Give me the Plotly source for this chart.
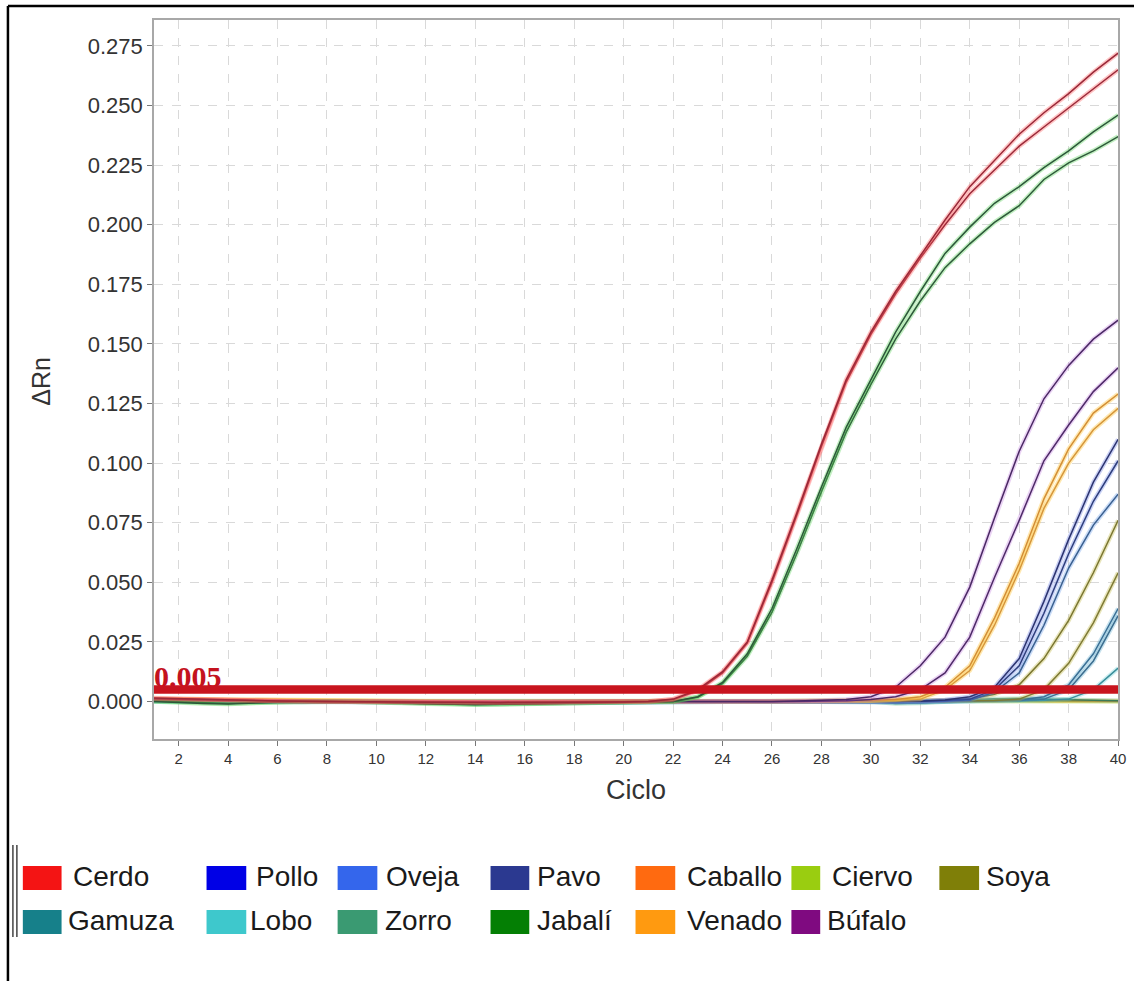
import plotly.graph_objects as go

# ---------------- data ----------------
cycles = list(range(1, 41))

cerdo_a = [0.0015, 0.0012, 0.0008, 0.0005, 0.0003, 0.0002, 0.0001, 0.0000, 0.0000, -0.0002,
           -0.0003, -0.0004, -0.0004, -0.0005, -0.0005, -0.0004, -0.0004, -0.0003, -0.0002, -0.0002,
           0.0000, 0.0010, 0.0050, 0.0125, 0.0250, 0.0510, 0.0790, 0.1080, 0.1350, 0.1550,
           0.1720, 0.1870, 0.2020, 0.2160, 0.2270, 0.2380, 0.2470, 0.2550, 0.2640, 0.2720]
cerdo_b = [0.0012, 0.0010, 0.0007, 0.0004, 0.0002, 0.0001, 0.0000, -0.0001, -0.0001, -0.0002,
           -0.0003, -0.0003, -0.0004, -0.0004, -0.0004, -0.0003, -0.0003, -0.0002, -0.0002, -0.0001,
           0.0001, 0.0008, 0.0045, 0.0120, 0.0245, 0.0500, 0.0780, 0.1070, 0.1340, 0.1540,
           0.1710, 0.1860, 0.2000, 0.2130, 0.2230, 0.2330, 0.2410, 0.2490, 0.2570, 0.2650]
jabali_a = [0.0000, -0.0005, -0.0008, -0.0010, -0.0006, -0.0002, 0.0000, 0.0001, 0.0000, -0.0003,
            -0.0006, -0.0009, -0.0012, -0.0014, -0.0012, -0.0010, -0.0009, -0.0008, -0.0007, -0.0005,
            -0.0003, 0.0000, 0.0020, 0.0080, 0.0200, 0.0390, 0.0640, 0.0900, 0.1150, 0.1350,
            0.1550, 0.1720, 0.1880, 0.1990, 0.2090, 0.2160, 0.2240, 0.2310, 0.2390, 0.2460]
jabali_b = [0.0002, -0.0002, -0.0006, -0.0008, -0.0005, -0.0002, 0.0000, 0.0000, -0.0001, -0.0004,
            -0.0007, -0.0010, -0.0011, -0.0012, -0.0011, -0.0010, -0.0009, -0.0007, -0.0006, -0.0004,
            -0.0002, 0.0000, 0.0018, 0.0075, 0.0190, 0.0375, 0.0620, 0.0880, 0.1130, 0.1330,
            0.1520, 0.1680, 0.1820, 0.1920, 0.2010, 0.2080, 0.2190, 0.2260, 0.2310, 0.2370]
bufalo_a = [0.0008, 0.0006, 0.0004, 0.0002, 0.0001, 0.0000, -0.0001, -0.0001, 0.0000, 0.0000,
            -0.0002, -0.0003, -0.0004, -0.0004, -0.0003, -0.0002, -0.0002, -0.0001, 0.0000, 0.0000,
            0.0001, 0.0001, 0.0000, -0.0001, -0.0001, 0.0000, 0.0002, 0.0004, 0.0008, 0.0020,
            0.0060, 0.0150, 0.0270, 0.0480, 0.0770, 0.1050, 0.1270, 0.1410, 0.1520, 0.1600]
bufalo_b = [0.0006, 0.0005, 0.0003, 0.0002, 0.0000, -0.0001, -0.0002, -0.0002, -0.0001, 0.0000,
            -0.0001, -0.0002, -0.0003, -0.0003, -0.0002, -0.0002, -0.0001, -0.0001, 0.0000, 0.0000,
            0.0000, 0.0001, 0.0000, -0.0001, -0.0002, -0.0001, 0.0000, 0.0001, 0.0003, 0.0008,
            0.0020, 0.0050, 0.0120, 0.0270, 0.0520, 0.0760, 0.1010, 0.1160, 0.1300, 0.1400]
venado_a = [0.0010, 0.0009, 0.0007, 0.0006, 0.0005, 0.0005, 0.0004, 0.0003, 0.0002, 0.0001,
            0.0000, -0.0001, -0.0002, -0.0002, -0.0001, -0.0001, 0.0000, 0.0000, 0.0001, 0.0001,
            0.0000, 0.0000, -0.0001, -0.0001, 0.0000, 0.0001, 0.0001, 0.0002, 0.0003, 0.0004,
            0.0008, 0.0020, 0.0060, 0.0150, 0.0350, 0.0580, 0.0850, 0.1060, 0.1210, 0.1290]
venado_b = [0.0009, 0.0008, 0.0006, 0.0005, 0.0004, 0.0004, 0.0003, 0.0002, 0.0001, 0.0000,
            -0.0001, -0.0002, -0.0002, -0.0003, -0.0002, -0.0001, -0.0001, 0.0000, 0.0000, 0.0001,
            0.0000, -0.0001, -0.0001, -0.0002, -0.0001, 0.0000, 0.0001, 0.0001, 0.0002, 0.0003,
            0.0005, 0.0010, 0.0050, 0.0130, 0.0320, 0.0550, 0.0810, 0.1000, 0.1140, 0.1230]
pavo = [0.0004, 0.0003, 0.0002, 0.0001, 0.0000, -0.0001, -0.0001, -0.0002, -0.0002, -0.0001,
        -0.0002, -0.0003, -0.0004, -0.0005, -0.0005, -0.0004, -0.0003, -0.0003, -0.0002, -0.0002,
        -0.0001, -0.0001, 0.0000, 0.0000, 0.0001, 0.0001, 0.0000, -0.0001, -0.0002, -0.0002,
        -0.0001, 0.0001, 0.0006, 0.0020, 0.0060, 0.0180, 0.0420, 0.0680, 0.0920, 0.1100]
pollo = [0.0003, 0.0002, 0.0001, 0.0000, -0.0001, -0.0002, -0.0002, -0.0002, -0.0001, 0.0000,
         -0.0001, -0.0002, -0.0003, -0.0004, -0.0004, -0.0003, -0.0003, -0.0002, -0.0002, -0.0001,
         -0.0001, 0.0000, 0.0000, 0.0001, 0.0001, 0.0000, 0.0000, -0.0001, -0.0002, -0.0001,
         0.0000, 0.0001, 0.0004, 0.0010, 0.0050, 0.0150, 0.0370, 0.0620, 0.0840, 0.1010]
oveja = [0.0002, 0.0001, 0.0000, -0.0001, -0.0001, -0.0002, -0.0002, -0.0001, 0.0000, 0.0000,
         -0.0001, -0.0002, -0.0002, -0.0003, -0.0003, -0.0002, -0.0002, -0.0001, -0.0001, 0.0000,
         0.0000, 0.0000, 0.0001, 0.0001, 0.0000, -0.0001, -0.0001, -0.0002, -0.0002, -0.0001,
         0.0000, 0.0000, 0.0002, 0.0005, 0.0040, 0.0120, 0.0320, 0.0560, 0.0740, 0.0870]
soya_a = [0.0006, 0.0005, 0.0004, 0.0003, 0.0002, 0.0002, 0.0001, 0.0000, 0.0000, -0.0001,
          -0.0001, -0.0002, -0.0002, -0.0002, -0.0001, -0.0001, 0.0000, 0.0000, 0.0001, 0.0001,
          0.0000, 0.0000, -0.0001, -0.0001, 0.0000, 0.0000, 0.0001, 0.0001, 0.0001, 0.0000,
          0.0000, 0.0001, 0.0003, 0.0010, 0.0030, 0.0070, 0.0180, 0.0340, 0.0540, 0.0760]
soya_b = [0.0005, 0.0004, 0.0003, 0.0002, 0.0001, 0.0001, 0.0000, 0.0000, -0.0001, -0.0001,
          -0.0002, -0.0002, -0.0003, -0.0003, -0.0002, -0.0002, -0.0001, -0.0001, 0.0000, 0.0000,
          0.0000, 0.0001, 0.0001, 0.0000, 0.0000, -0.0001, -0.0001, 0.0000, 0.0000, 0.0001,
          0.0001, 0.0002, 0.0002, 0.0003, 0.0004, 0.0010, 0.0050, 0.0160, 0.0330, 0.0540]
gamuza_a = [0.0003, 0.0002, 0.0001, 0.0000, -0.0001, -0.0001, -0.0002, -0.0002, -0.0001, -0.0001,
            -0.0003, -0.0005, -0.0007, -0.0008, -0.0007, -0.0006, -0.0005, -0.0004, -0.0003, -0.0002,
            -0.0002, -0.0001, -0.0001, 0.0000, 0.0000, 0.0000, 0.0001, 0.0001, 0.0000, -0.0002,
            -0.0004, -0.0002, 0.0000, 0.0002, 0.0004, 0.0006, 0.0020, 0.0070, 0.0200, 0.0390]
gamuza_b = [0.0002, 0.0001, 0.0000, -0.0001, -0.0002, -0.0002, -0.0002, -0.0001, -0.0001, 0.0000,
            -0.0002, -0.0004, -0.0006, -0.0007, -0.0006, -0.0005, -0.0004, -0.0003, -0.0003, -0.0002,
            -0.0001, -0.0001, 0.0000, 0.0000, 0.0001, 0.0001, 0.0000, 0.0000, -0.0001, -0.0003,
            -0.0005, -0.0003, -0.0001, 0.0001, 0.0003, 0.0004, 0.0010, 0.0050, 0.0170, 0.0360]
lobo = [0.0001, 0.0000, -0.0001, -0.0002, -0.0002, -0.0001, 0.0000, 0.0000, 0.0001, 0.0000,
        -0.0001, -0.0002, -0.0003, -0.0003, -0.0002, -0.0002, -0.0001, -0.0001, 0.0000, 0.0000,
        0.0001, 0.0001, 0.0000, 0.0000, -0.0001, -0.0001, 0.0000, 0.0000, 0.0001, 0.0000,
        -0.0002, -0.0001, 0.0000, 0.0001, 0.0002, 0.0003, 0.0005, 0.0010, 0.0050, 0.0140]
zorro = [0.0005, 0.0003, 0.0002, 0.0000, -0.0002, -0.0003, -0.0003, -0.0002, -0.0001, 0.0000,
         0.0000, -0.0004, -0.0008, -0.0012, -0.0010, -0.0008, -0.0007, -0.0006, -0.0005, -0.0004,
         -0.0003, -0.0002, -0.0002, -0.0001, 0.0000, 0.0000, 0.0001, 0.0002, 0.0002, 0.0000,
         -0.0008, -0.0006, 0.0000, 0.0006, 0.0010, 0.0012, 0.0010, 0.0008, 0.0005, 0.0003]
caballo = [0.0010, 0.0008, 0.0006, 0.0006, 0.0007, 0.0008, 0.0006, 0.0004, 0.0002, 0.0000,
           -0.0002, -0.0003, -0.0004, -0.0004, -0.0003, -0.0002, -0.0001, 0.0000, 0.0001, 0.0002,
           0.0002, 0.0001, 0.0000, -0.0001, -0.0002, -0.0002, -0.0001, 0.0000, 0.0001, 0.0002,
           0.0003, 0.0004, 0.0005, 0.0006, 0.0006, 0.0005, 0.0004, 0.0003, 0.0002, 0.0002]
ciervo = [0.0002, 0.0001, 0.0000, -0.0001, 0.0000, 0.0001, 0.0002, 0.0002, 0.0001, 0.0000,
          -0.0001, -0.0002, -0.0002, -0.0001, 0.0000, 0.0001, 0.0001, 0.0000, -0.0001, -0.0001,
          0.0000, 0.0001, 0.0002, 0.0002, 0.0001, 0.0000, -0.0001, -0.0001, 0.0000, 0.0001,
          0.0002, 0.0003, 0.0003, 0.0002, 0.0001, 0.0000, -0.0001, -0.0001, 0.0000, 0.0000]

threshold = 0.005
threshold_label = "0.005"

x_ticks = list(range(2, 41, 2))
y_ticks = [0.000, 0.025, 0.050, 0.075, 0.100, 0.125, 0.150, 0.175, 0.200, 0.225, 0.250, 0.275]

# legend entries: (name, swatch colour), two rows
legend_row1 = [("Cerdo", "#F41414"), ("Pollo", "#0000E6"), ("Oveja", "#3466EC"), ("Pavo", "#2B3990"),
               ("Caballo", "#FF6A10"), ("Ciervo", "#9ACD10"), ("Soya", "#7F7F08")]
legend_row2 = [("Gamuza", "#16808A"), ("Lobo", "#3EC8CC"), ("Zorro", "#3A9A72"), ("Jabalí", "#047F04"),
               ("Venado", "#FF9A10"), ("Búfalo", "#7F0A80")]

# (values, core colour, halo colour) drawn bottom-to-top
curves = [
    (ciervo, "#A6C83A", "rgba(170,220,60,0.35)"),
    (caballo, "#E0762E", "rgba(255,150,60,0.30)"),
    (zorro, "#3A7A58", "rgba(70,180,120,0.30)"),
    (lobo, "#3A8E9A", "rgba(80,200,210,0.30)"),
    (gamuza_b, "#3C6E90", "rgba(70,160,200,0.30)"),
    (gamuza_a, "#3A7096", "rgba(70,160,200,0.30)"),
    (soya_b, "#7E7A34", "rgba(190,180,60,0.35)"),
    (soya_a, "#7A7630", "rgba(190,180,60,0.35)"),
    (oveja, "#3A6090", "rgba(80,140,230,0.30)"),
    (pollo, "#2E3E7C", "rgba(80,110,230,0.30)"),
    (pavo, "#2C3470", "rgba(80,100,220,0.30)"),
    (venado_b, "#D6963A", "rgba(255,205,80,0.45)"),
    (venado_a, "#D48E34", "rgba(255,205,80,0.45)"),
    (bufalo_b, "#4E2A68", "rgba(170,80,210,0.25)"),
    (bufalo_a, "#4A2864", "rgba(170,80,210,0.25)"),
    (jabali_b, "#2E5A3A", "rgba(80,210,80,0.35)"),
    (jabali_a, "#2C583A", "rgba(80,210,80,0.35)"),
    (cerdo_b, "#9C2A3A", "rgba(255,90,90,0.35)"),
    (cerdo_a, "#9A2838", "rgba(255,90,90,0.35)"),
]

# ---------------- figure ----------------
W, H = 1142, 981


def px(x):
    return x / W


def py(y):
    return 1 - y / H


fig = go.Figure()

for vals, core, halo in curves:
    fig.add_trace(go.Scatter(x=cycles, y=vals, mode="lines",
                             line=dict(color=halo, width=4.5), hoverinfo="skip"))
    fig.add_trace(go.Scatter(x=cycles, y=vals, mode="lines",
                             line=dict(color=core, width=1.5)))

# threshold label, then the threshold bar drawn over its lower edge
fig.add_trace(go.Scatter(x=[1.0], y=[threshold * 0.62], mode="text",
                         text=[f"<b>{threshold_label}</b>"],
                         textposition="top right", cliponaxis=False,
                         textfont=dict(family="Liberation Serif", size=30, color="#C4121E")))
fig.add_trace(go.Scatter(x=[1, 40], y=[threshold, threshold], mode="lines",
                         line=dict(color="#C8141E", width=8.5), cliponaxis=False))

axis_font = dict(family="Liberation Sans, Arial", color="#333333")

fig.update_layout(
    width=W, height=H,
    margin=dict(l=0, r=0, t=0, b=0),
    paper_bgcolor="white", plot_bgcolor="white",
    showlegend=False,
    xaxis=dict(
        domain=[px(155), px(1126)], range=[1, 40],
        tickvals=x_ticks, ticktext=[str(v) for v in x_ticks],
        tickfont=dict(size=15, **axis_font),
        ticks="outside", ticklen=5, tickcolor="#777777",
        showline=True, linecolor="#A8A8A8", linewidth=1.5, mirror=True,
        showgrid=True, gridcolor="#D9D9D9", griddash="dash", gridwidth=1,
        zeroline=False,
        title=dict(text="Ciclo", font=dict(size=27, **axis_font), standoff=14),
    ),
    yaxis=dict(
        domain=[py(739), py(20)], range=[-0.01573, 0.2859],
        tickvals=y_ticks, ticktext=[f"{v:.3f}" for v in y_ticks],
        tickfont=dict(size=22, **axis_font),
        ticks="outside", ticklen=5, tickcolor="#777777",
        showline=True, linecolor="#A8A8A8", linewidth=1.5, mirror=True,
        showgrid=True, gridcolor="#D9D9D9", griddash="dash", gridwidth=1,
        zeroline=False,
    ),
)

shapes = []
annotations = []

# y-axis title
annotations.append(dict(x=px(41), y=py(381), xref="paper", yref="paper", text="ΔRn",
                        showarrow=False, textangle=-90, xanchor="center", yanchor="middle",
                        font=dict(size=25, **axis_font)))

# outer frame
shapes.append(dict(type="line", xref="paper", yref="paper", x0=px(8), x1=px(8), y0=py(6), y1=py(981),
                   line=dict(color="black", width=2.5)))
shapes.append(dict(type="line", xref="paper", yref="paper", x0=px(8), x1=px(1142), y0=py(6), y1=py(6),
                   line=dict(color="black", width=2.5)))

# legend bracket at its left edge
for bx in (13, 17):
    shapes.append(dict(type="line", xref="paper", yref="paper", x0=px(bx), x1=px(bx),
                       y0=py(845), y1=py(937), line=dict(color="#444444", width=1.5)))

# legend swatches and labels
swatch_x = [(23, 62), (208, 248), (340, 380), (494, 533), (640, 680), (797, 826), (946, 986)]
text_x1 = [72, 256, 387, 539, 690, 836, 991]
text_x2 = [66, 250, 386, 539, 690, 831]
for row, ycen, txs in ((legend_row1, 878, text_x1), (legend_row2, 922, text_x2)):
    for (name, col), (sx0, sx1), tx in zip(row, swatch_x, txs):
        shapes.append(dict(type="rect", xref="paper", yref="paper",
                           x0=px(sx0), x1=px(sx1), y0=py(ycen + 12), y1=py(ycen - 12),
                           fillcolor=col, line=dict(width=0)))
        annotations.append(dict(x=px(tx), y=py(ycen - 2), xref="paper", yref="paper", text=name,
                                showarrow=False, xanchor="left", yanchor="middle",
                                font=dict(family="Liberation Sans, Arial", size=28, color="#1A1A1A")))

fig.update_layout(shapes=shapes, annotations=annotations)

fig.write_html("out.html")
